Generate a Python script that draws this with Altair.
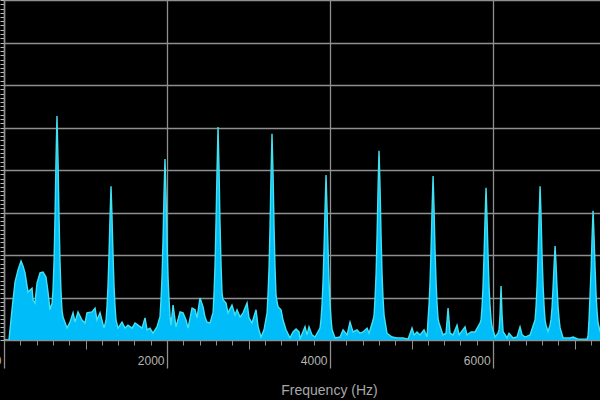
import altair as alt
import pandas as pd

# Spectrum trace (frequency in Hz, amplitude in grid units)
freq_hz = [
    0, 61, 98, 135, 172, 209, 233, 258, 294, 344,
    356, 380, 405, 442, 479, 515, 540, 564, 577, 589,
    601, 614, 626, 638, 650, 663, 675, 687, 699, 712,
    724, 773, 810, 847, 871, 908, 957, 994, 1018, 1080,
    1117, 1141, 1178, 1227, 1252, 1264, 1276, 1288, 1301, 1313,
    1325, 1338, 1350, 1362, 1374, 1399, 1448, 1485, 1521, 1571,
    1607, 1644, 1693, 1730, 1755, 1791, 1828, 1877, 1914, 1926,
    1939, 1951, 1963, 1975, 1988, 2000, 2012, 2025, 2037, 2049,
    2074, 2110, 2160, 2196, 2233, 2258, 2307, 2344, 2368, 2405,
    2442, 2466, 2491, 2528, 2565, 2577, 2589, 2601, 2614, 2626,
    2638, 2650, 2663, 2675, 2687, 2724, 2748, 2797, 2834, 2859,
    2896, 2933, 2982, 3006, 3043, 3092, 3117, 3153, 3190, 3227,
    3239, 3252, 3264, 3276, 3288, 3301, 3313, 3325, 3337, 3350,
    3362, 3399, 3423, 3460, 3509, 3546, 3583, 3620, 3632, 3693,
    3718, 3742, 3779, 3816, 3877, 3890, 3902, 3914, 3926, 3939,
    3951, 3963, 3976, 3988, 4000, 4012, 4025, 4062, 4123, 4160,
    4209, 4245, 4282, 4331, 4368, 4405, 4454, 4479, 4528, 4540,
    4552, 4565, 4577, 4589, 4601, 4614, 4626, 4638, 4650, 4663,
    4699, 4761, 4822, 4896, 4957, 5006, 5031, 5067, 5104, 5153,
    5190, 5203, 5215, 5227, 5239, 5252, 5264, 5276, 5288, 5301,
    5313, 5325, 5337, 5386, 5423, 5448, 5472, 5509, 5558, 5583,
    5656, 5681, 5730, 5779, 5840, 5853, 5865, 5877, 5889, 5902,
    5914, 5926, 5939, 5951, 5963, 5976, 5988, 6025, 6061, 6074,
    6086, 6098, 6110, 6123, 6172, 6196, 6245, 6294, 6331, 6356,
    6393, 6454, 6515, 6528, 6540, 6552, 6565, 6577, 6589, 6601,
    6614, 6626, 6638, 6650, 6675, 6699, 6712, 6724, 6736, 6749,
    6761, 6773, 6785, 6798, 6810, 6822, 6859, 6945, 6982, 7043,
    7104, 7153, 7166, 7178, 7190, 7203, 7215, 7227, 7239, 7252,
    7264, 7276, 7288, 7301, 7313, 7400,
]
amplitude = [
    0.00, 0.00, 0.71, 1.36, 1.65, 1.86, 1.74, 1.58, 1.13, 1.22,
    0.94, 0.87, 1.34, 1.58, 1.60, 1.48, 1.13, 0.71, 0.80, 0.85,
    1.16, 1.84, 2.90, 4.22, 5.27, 4.22, 2.90, 1.84, 1.16, 0.69,
    0.54, 0.28, 0.42, 0.64, 0.42, 0.66, 0.47, 0.40, 0.64, 0.66,
    0.75, 0.47, 0.64, 0.28, 0.47, 0.80, 1.27, 1.99, 2.90, 3.62,
    2.90, 1.99, 1.27, 0.80, 0.47, 0.28, 0.42, 0.28, 0.35, 0.28,
    0.40, 0.35, 0.28, 0.52, 0.24, 0.28, 0.16, 0.31, 0.55, 0.94,
    1.49, 2.34, 3.41, 4.26, 3.41, 2.34, 1.49, 0.94, 0.55, 0.35,
    0.82, 0.31, 0.66, 0.64, 0.47, 0.28, 0.75, 0.71, 0.52, 0.99,
    0.78, 0.54, 0.42, 0.40, 0.65, 1.10, 1.75, 2.76, 4.01, 5.01,
    4.01, 2.76, 1.75, 1.10, 0.95, 0.87, 0.64, 0.82, 0.59, 0.71,
    0.54, 0.64, 0.87, 0.52, 0.40, 0.71, 0.31, 0.07, 0.24, 0.63,
    1.07, 1.70, 2.67, 3.88, 4.85, 3.88, 2.67, 1.70, 1.07, 0.90,
    0.78, 0.71, 0.47, 0.24, 0.05, 0.19, 0.26, 0.19, 0.03, 0.31,
    0.12, 0.31, 0.12, 0.07, 0.28, 0.50, 0.85, 1.36, 2.13, 3.10,
    3.88, 3.10, 2.13, 1.36, 0.85, 0.50, 0.24, 0.05, 0.07, 0.24,
    0.12, 0.42, 0.19, 0.24, 0.16, 0.19, 0.28, 0.16, 0.47, 0.58,
    0.98, 1.56, 2.45, 3.56, 4.45, 3.56, 2.45, 1.56, 0.98, 0.58,
    0.16, 0.07, 0.05, 0.05, 0.02, 0.28, 0.12, 0.19, 0.12, 0.24,
    0.07, 0.50, 0.85, 1.35, 2.12, 3.09, 3.86, 3.09, 2.12, 1.35,
    0.85, 0.50, 0.40, 0.12, 0.16, 0.75, 0.16, 0.12, 0.35, 0.12,
    0.31, 0.12, 0.19, 0.19, 0.40, 0.47, 0.79, 1.25, 1.97, 2.86,
    3.58, 2.86, 1.97, 1.25, 0.79, 0.47, 0.31, 0.07, 0.16, 0.25,
    0.60, 1.27, 0.60, 0.20, 0.05, 0.16, 0.05, 0.07, 0.31, 0.12,
    0.07, 0.12, 0.47, 0.80, 1.27, 1.99, 2.90, 3.62, 2.90, 1.99,
    1.27, 0.80, 0.47, 0.35, 0.20, 0.35, 0.49, 0.77, 1.22, 1.77,
    2.21, 1.77, 1.22, 0.77, 0.49, 0.29, 0.05, 0.05, 0.07, 0.02,
    0.02, 0.02, 0.10, 0.50, 1.06, 1.67, 2.43, 3.04, 2.43, 1.67,
    1.06, 0.67, 0.40, 0.30, 0.20, 0.10,
]
assert len(freq_hz) == len(amplitude)

minor_ticks_x = list(range(0, 7400, 200))
mid_ticks_x = list(range(0, 7400, 1000))
major_ticks_x = [0, 2000, 4000, 6000]
minor_ticks_y = [round(i / 10, 1) for i in range(0, 81)]
grid_y = [0, 1, 2, 3, 4, 5, 6, 7, 8]

df = pd.DataFrame({"freq": freq_hz, "amp": amplitude})

FONT = "Liberation Sans"
GRID = "#8f8f8f"
xscale = alt.Scale(domain=[0, 7312], nice=False, zero=False)
yscale = alt.Scale(domain=[0, 8], nice=False)

base = alt.Chart(df)

area = base.mark_area(
    color="#00bcf8", opacity=1, clip=True, interpolate="linear",
    line={"color": "#40e2f2", "strokeWidth": 1.4},
).encode(
    x=alt.X("freq:Q", scale=xscale, axis=alt.Axis(
        orient="bottom", values=minor_ticks_x, tickSize=5, tickColor=GRID, tickWidth=1,
        labels=False, title=None, grid=False, domain=True, domainColor=GRID, domainWidth=1)),
    y=alt.Y("amp:Q", scale=yscale, axis=alt.Axis(
        orient="left", values=minor_ticks_y, tickSize=4, tickColor="#bbbbbb", tickWidth=1,
        labels=False, title=None, grid=False, domain=True, domainColor=GRID, domainWidth=1.5)),
)

mid = base.mark_point(opacity=0, size=0).encode(
    x=alt.X("freq:Q", scale=xscale, axis=alt.Axis(
        orient="bottom", values=mid_ticks_x, tickSize=9, tickColor=GRID, tickWidth=1,
        labels=False, title=None, grid=False, domain=False)),
    y=alt.Y("amp:Q", scale=yscale, axis=alt.Axis(
        orient="left", values=grid_y, ticks=False, labels=False, title=None,
        grid=True, gridColor=GRID, gridWidth=1.3, domain=False)),
)

major = base.mark_point(opacity=0, size=0).encode(
    x=alt.X("freq:Q", scale=xscale, axis=alt.Axis(
        orient="bottom", values=major_ticks_x, tickSize=28, tickColor=GRID, tickWidth=1.3,
        grid=True, gridColor=GRID, gridWidth=1.3, domain=False,
        labelAlign="right", labelBaseline="middle", labelOffset=-3, labelPadding=-8,
        labelFont=FONT, labelFontSize=12, labelColor="#b4b4b4", format="d",
        title="Frequency (Hz)", titleFont=FONT, titleFontSize=14, titleFontWeight="normal",
        titleColor="#a8a8a8", titleX=325, titleY=50, titleAlign="center", titleBaseline="middle")),
    y=alt.Y("amp:Q", scale=yscale, axis=None),
)

chart = alt.layer(mid, major, area).resolve_axis(x="independent", y="independent").properties(
    width=596, height=340,
    background="black",
    padding={"left": 4, "top": 0, "right": 0, "bottom": 60},
    autosize=alt.AutoSizeParams(type="none"),
).configure_view(stroke=None)

chart.save("out.html", embed_options={"renderer": "svg", "actions": False})
